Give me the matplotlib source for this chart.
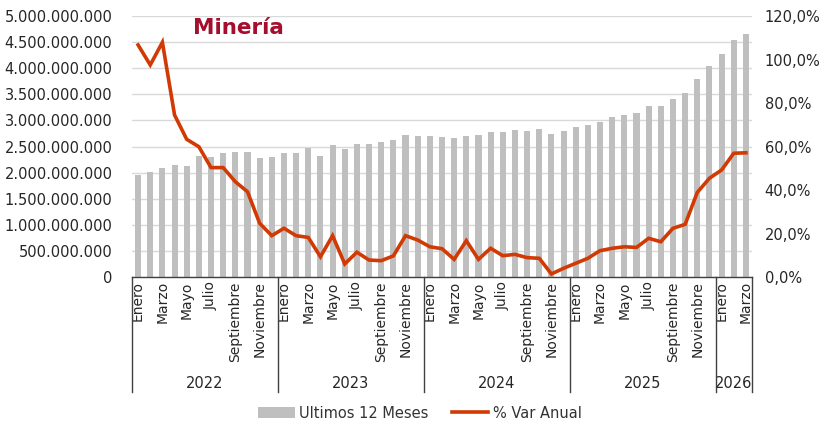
import matplotlib
matplotlib.use("Agg")
import matplotlib.pyplot as plt
from matplotlib.ticker import FuncFormatter, MultipleLocator
from matplotlib.patches import Patch
from matplotlib.lines import Line2D
import matplotlib.transforms as mtrans

plt.rcParams['font.family'] = ['DejaVu Sans']

years = ["2022", "2023", "2024", "2025", "2026"]
months_per_year = [12, 12, 12, 12, 3]
month_names = ["Enero", "Febrero", "Marzo", "Abril", "Mayo", "Junio", "Julio",
               "Agosto", "Septiembre", "Octubre", "Noviembre", "Diciembre"]

ultimos_12 = [
    1954e6, 2006e6, 2094e6, 2140e6, 2133e6, 2318e6, 2293e6, 2370e6, 2395e6, 2389e6, 2286e6, 2305e6,
    2382e6, 2375e6, 2465e6, 2324e6, 2529e6, 2452e6, 2542e6, 2554e6, 2580e6, 2619e6, 2714e6, 2695e6,
    2701e6, 2682e6, 2657e6, 2707e6, 2720e6, 2772e6, 2784e6, 2822e6, 2797e6, 2842e6, 2739e6, 2797e6,
    2874e6, 2906e6, 2969e6, 3059e6, 3103e6, 3142e6, 3276e6, 3270e6, 3410e6, 3519e6, 3793e6, 4048e6,
    4272e6, 4546e6, 4661e6,
]
var_anual = [
    106.7, 97.5, 107.9, 74.5, 63.3, 59.9, 50.3, 50.3, 43.8, 39.2, 24.7, 19.0,
    22.4, 19.0, 18.2, 9.3, 19.0, 6.0, 11.4, 7.8, 7.5, 9.7, 19.0, 17.0,
    13.9, 13.0, 8.1, 16.7, 8.1, 13.2, 9.8, 10.4, 8.9, 8.6, 1.4, 4.0,
    6.3, 8.6, 12.1, 13.2, 13.9, 13.6, 17.8, 16.2, 22.4, 24.2, 38.9, 45.4,
    49.2, 56.9, 57.1,
]

title = "Minería"
bar_label = "Ultimos 12 Meses"
line_label = "% Var Anual"

BAR_C = "#BFBFBF"
LINE_C = "#D13A04"
TITLE_C = "#A50F2D"
GRID_C = "#D9D9D9"
TXT_C = "#262626"

n = len(ultimos_12)
x = list(range(n))

fig = plt.figure(figsize=(8.25, 4.23), dpi=100)
ax = fig.add_axes([132/825, 1-277/423, (752-132)/825, (277-16)/423])
ax2 = ax.twinx()

ax.bar(x, ultimos_12, width=0.5, color=BAR_C, zorder=2)
ax.set_ylim(0, 5e9)
ax.yaxis.set_major_locator(MultipleLocator(5e8))
ax.yaxis.set_major_formatter(FuncFormatter(lambda v, p: f"{int(round(v)):,}".replace(",", ".")))
ax.grid(axis='y', color=GRID_C, linewidth=1, zorder=0)
ax.set_axisbelow(True)
ax.set_xlim(-0.5, n - 0.5)

ax2.plot(x, var_anual, color=LINE_C, linewidth=2.6, zorder=3, solid_joinstyle='miter')
ax2.set_ylim(0, 120)
ax2.yaxis.set_major_locator(MultipleLocator(20))
ax2.yaxis.set_major_formatter(FuncFormatter(lambda v, p: f"{v:.1f}%".replace(".", ",")))

for a in (ax, ax2):
    for s in ("top", "left", "right", "bottom"):
        a.spines[s].set_visible(False)
ax.spines["bottom"].set_visible(True)
ax.spines["bottom"].set_color("#404040")
ax.spines["bottom"].set_linewidth(1.0)

ax.tick_params(axis='y', length=0, pad=14, labelsize=10.5, labelcolor=TXT_C)
ax2.tick_params(axis='y', length=0, pad=9, labelsize=10.5, labelcolor=TXT_C)

# month tick labels
ticks, labels = [], []
idx = 0
for y, m in zip(years, months_per_year):
    for k in range(m):
        if k % 2 == 0:
            ticks.append(idx)
            labels.append(month_names[k])
        idx += 1
ax.set_xticks(ticks)
ax.set_xticklabels(labels, rotation=90, fontsize=10, color=TXT_C)
ax.tick_params(axis='x', length=0, pad=3)

# year groups
trans = mtrans.blended_transform_factory(ax.transData, ax.transAxes)
bottom_frac = -(392 - 277) / 261
year_y = -(383 - 277) / 261
start = 0
bounds = [-0.5]
for y, m in zip(years, months_per_year):
    end = start + m
    bounds.append(end - 0.5)
    ax.text((start + end - 1) / 2, year_y, y, transform=trans, ha='center', va='center',
            fontsize=10.5, color=TXT_C)
    start = end
for b in bounds:
    ax.plot([b, b], [0, bottom_frac], transform=trans, color="#404040", linewidth=1.0,
            clip_on=False, zorder=5)

fig.text(238/825, 1 - 28/423, title, color=TITLE_C, fontsize=15.5, fontweight='bold',
         ha='center', va='center')

handles = [Patch(facecolor=BAR_C, edgecolor='none', label=bar_label),
           Line2D([0], [0], color=LINE_C, linewidth=2.6, label=line_label)]
fig.legend(handles=handles, loc='center', bbox_to_anchor=(420/825, 1 - 413/423), ncol=2,
           frameon=False, fontsize=10.5, handlelength=2.5, handleheight=0.8,
           columnspacing=1.6, handletextpad=0.3, labelcolor="#333333")

fig.savefig("out.png", dpi=100)
